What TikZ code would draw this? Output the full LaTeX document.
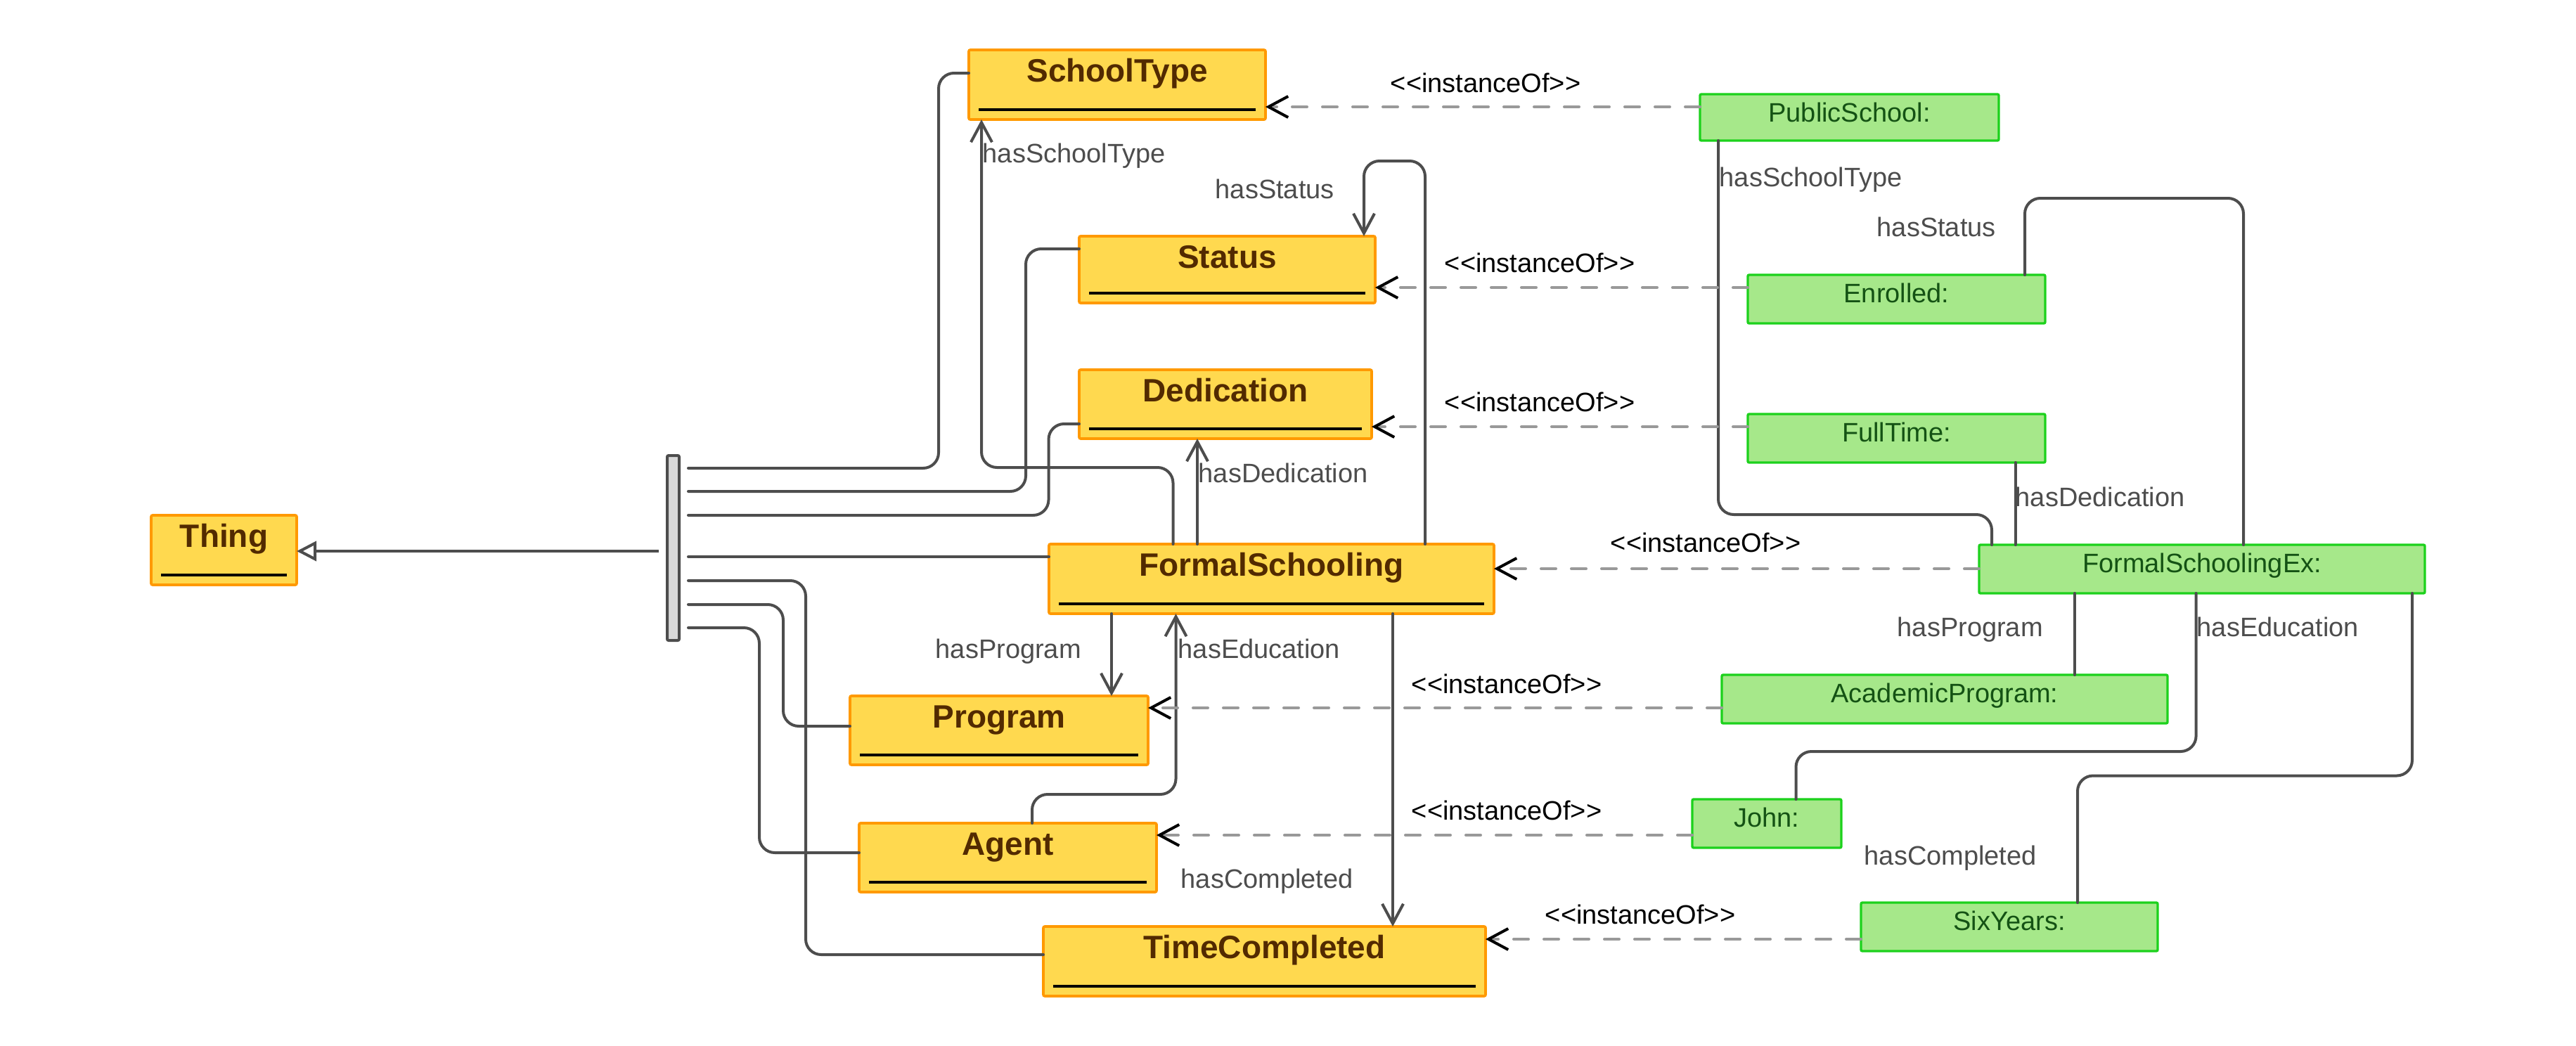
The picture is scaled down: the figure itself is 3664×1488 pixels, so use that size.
\documentclass[tikz,border=0pt]{standalone}
\usepackage{fontspec}
\setmainfont{Liberation Sans}
\usetikzlibrary{arrows.meta,fit}
\definecolor{clsfill}{HTML}{FFD94F}
\definecolor{clsdraw}{HTML}{FF9900}
\definecolor{clstext}{HTML}{522A00}
\definecolor{insfill}{HTML}{A6E88A}
\definecolor{insdraw}{HTML}{1CD11C}
\definecolor{instext}{HTML}{145214}
\definecolor{wirecol}{HTML}{4D4D4D}
\definecolor{dashcol}{HTML}{999999}
\definecolor{barfill}{HTML}{D9D9D9}
\newcommand\umlclass[6]{%
  \node[cls, fit={(#2,#3) (#4,#5)}] (#1) {};
  \node[ctitle] (#1-t) at ([yshift=-11.25pt]#1.north) {#6};
  \draw[uline] ([shift={(3.5pt,3.5pt)}]#1.south west) -- ([shift={(-3.5pt,3.5pt)}]#1.south east);}
\newcommand\umlobj[6]{%
  \node[ins, fit={(#2,#3) (#4,#5)}] (#1) {};
  \node[itext] (#1-t) at ([yshift=-9.75pt]#1.north) {#6};}
\begin{document}
\begin{tikzpicture}[x=0.25pt,y=-0.25pt,
  cls/.style={draw=clsdraw, fill=clsfill, line width=0.9pt, inner sep=0pt, outer sep=0pt, rounded corners=0.5pt},
  ins/.style={draw=insdraw, fill=insfill, line width=0.85pt, inner sep=0pt, outer sep=0pt, rounded corners=0.5pt},
  ctitle/.style={anchor=base, inner sep=0pt, text=clstext, font=\fontsize{11.5pt}{13pt}\selectfont\bfseries},
  itext/.style={anchor=base, inner sep=0pt, text=instext, font=\fontsize{9.5pt}{11pt}\selectfont},
  uline/.style={draw=black, line width=1pt},
  wire/.style={draw=wirecol, line width=1pt, rounded corners=5.5pt, line cap=round},
  assoc/.style={wire, -{Straight Barb[length=7pt,width=7.5pt]}},
  gen/.style={draw=wirecol, line width=1pt, -{Triangle[open,length=7pt,width=7pt,fill=white]}},
  inst/.style={draw=dashcol, line width=1pt, line cap=round, dash pattern=on 5.25pt off 5.5pt, -{Straight Barb[length=7pt,width=7.5pt,color=black]}},
  lbl/.style={anchor=base west, inner sep=0pt, text=wirecol, font=\fontsize{9.5pt}{11pt}\selectfont},
  ilbl/.style={anchor=base west, inner sep=0pt, text=black, font=\fontsize{9.5pt}{11pt}\selectfont},
]
\useasboundingbox (0,0) rectangle (3664,1488);
\fill[white] (0,0) rectangle (3664,1488);

% classes
\umlclass{Thing}{215}{733}{422}{832}{Thing}
\umlclass{ST}{1378}{71}{1800}{170}{SchoolType}
\umlclass{Status}{1535}{336}{1956}{431}{Status}
\umlclass{Ded}{1535}{526}{1951}{624}{Dedication}
\umlclass{FS}{1492}{774}{2125}{873}{FormalSchooling}
\umlclass{Prog}{1209}{990}{1633}{1088}{Program}
\umlclass{Agent}{1222}{1171}{1645}{1269}{Agent}
\umlclass{TC}{1484}{1318}{2113}{1417}{TimeCompleted}

% instances
\umlobj{PS}{2418}{134}{2843}{200}{PublicSchool:}
\umlobj{Enr}{2486}{391}{2909}{460}{Enrolled:}
\umlobj{FT}{2486}{589}{2909}{658}{FullTime:}
\umlobj{FSEx}{2815}{775}{3449}{844}{FormalSchoolingEx:}
\umlobj{AP}{2449}{960}{3083}{1029}{AcademicProgram:}
\umlobj{John}{2407}{1137}{2619}{1206}{John:}
\umlobj{SY}{2647}{1284}{3069}{1353}{SixYears:}

% generalization bar
\node[draw=wirecol, fill=barfill, line width=1pt, inner sep=0pt, outer sep=0pt, rounded corners=0.5pt, fit={(949,648) (966,911)}] (bar) {};
\coordinate (g0) at (937,784);
\coordinate (b1) at (979,666);
\coordinate (b2) at (979,699);
\coordinate (b3) at (979,733);
\coordinate (b4) at (979,792);
\coordinate (b5) at (979,826);
\coordinate (b6) at (979,860);
\coordinate (b7) at (979,893);
\draw[gen] (g0) -- (Thing.east |- g0);
\draw[wire] (b1) -- (1335,666) -- (1335,104) -- (ST.west |- 0,104);
\draw[wire] (b2) -- (1459,699) -- (1459,354) -- (Status.west |- 0,354);
\draw[wire] (b3) -- (1491.5,733) -- (1491.5,603) -- (Ded.west |- 0,603);
\draw[wire] (b4) -- (FS.west |- b4);
\draw[wire] (b5) -- (1146,826) -- (1146,1358) -- (TC.west |- 0,1358);
\draw[wire] (b6) -- (1114,860) -- (1114,1033) -- (Prog.west |- 0,1033);
\draw[wire] (b7) -- (1080,893) -- (1080,1213) -- (Agent.west |- 0,1213);

% associations between classes
\draw[assoc] (FS.north -| 1668.5,0) -- (1668.5,665) -- (1396,665) -- (ST.south -| 1396,0);
\draw[assoc] (FS.north -| 2027,0) -- (2027,229) -- (1940,229) -- (Status.north -| 1940,0);
\draw[assoc] (FS.north -| 1703,0) -- (Ded.south -| 1703,0);
\draw[assoc] (FS.south -| 1581,0) -- (Prog.north -| 1581,0);
\draw[assoc] (Agent.north -| 1468,0) -- (1468,1130) -- (1672.5,1130) -- (FS.south -| 1672.5,0);
\draw[assoc] (FS.south -| 1981,0) -- (TC.north -| 1981,0);

% links between instances
\draw[wire] (PS.south -| 2444,0) -- (2444,732) -- (2833,732) -- (FSEx.north -| 2833,0);
\draw[wire] (Enr.north -| 2880,0) -- (2880,282) -- (3191,282) -- (FSEx.north -| 3191,0);
\draw[wire] (FT.south -| 2866.5,0) -- (FSEx.north -| 2866.5,0);
\draw[wire] (FSEx.south -| 2951,0) -- (AP.north -| 2951,0);
\draw[wire] (FSEx.south -| 3123.6,0) -- (3123.6,1069) -- (2554.5,1069) -- (John.north -| 2554.5,0);
\draw[wire] (FSEx.south -| 3431,0) -- (3431,1103.5) -- (2955,1103.5) -- (SY.north -| 2955,0);

% instanceOf
\draw[inst] (PS.west |- 0,152) -- (ST.east |- 0,152);
\draw[inst] (Enr.west |- 0,409) -- (Status.east |- 0,409);
\draw[inst] (FT.west |- 0,607) -- (Ded.east |- 0,607);
\draw[inst] (FSEx.west |- 0,809) -- (FS.east |- 0,809);
\draw[inst] (AP.west |- 0,1007) -- (Prog.east |- 0,1007);
\draw[inst] (John.west |- 0,1188) -- (Agent.east |- 0,1188);
\draw[inst] (SY.west |- 0,1336) -- (TC.east |- 0,1336);

\node[ilbl] (i1) at (1977,131) {<{}<instanceOf>{}>};
\node[ilbl] (i2) at (2054,387) {<{}<instanceOf>{}>};
\node[ilbl] (i3) at (2054,585) {<{}<instanceOf>{}>};
\node[ilbl] (i4) at (2290,785) {<{}<instanceOf>{}>};
\node[ilbl] (i5) at (2007,986) {<{}<instanceOf>{}>};
\node[ilbl] (i6) at (2007,1166) {<{}<instanceOf>{}>};
\node[ilbl] (i7) at (2197,1314) {<{}<instanceOf>{}>};

% property labels
\node[lbl] (l1) at (1397,231) {hasSchoolType};
\node[lbl] (l2) at (1728,282) {hasStatus};
\node[lbl] (l3) at (1704,686) {hasDedication};
\node[lbl] (l4) at (1330,936) {hasProgram};
\node[lbl] (l5) at (1675,936) {hasEducation};
\node[lbl] (l6) at (1679,1263) {hasCompleted};
\node[lbl] (r1) at (2445,265) {hasSchoolType};
\node[lbl] (r2) at (2669,336) {hasStatus};
\node[lbl] (r3) at (2866,720) {hasDedication};
\node[lbl] (r4) at (2698,905) {hasProgram};
\node[lbl] (r5) at (3124,905) {hasEducation};
\node[lbl] (r6) at (2651,1230) {hasCompleted};
\end{tikzpicture}
\end{document}
